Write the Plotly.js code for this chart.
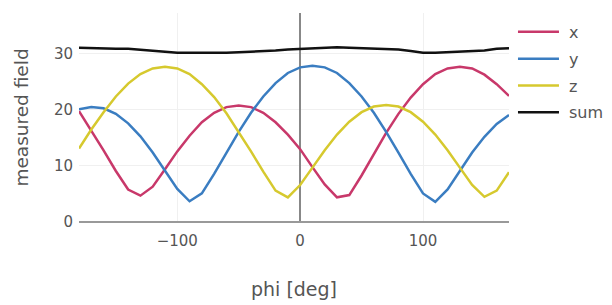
<!DOCTYPE html>
<html>
<head>
<meta charset="utf-8">
<script src="https://cdn.plot.ly/plotly-3.0.1.min.js"></script>
<style>html,body{margin:0;padding:0;background:#fff;}#chart{width:612px;height:305px;}</style>
</head>
<body>
<div id="chart"></div>
<script>
var phi = [-180,-170,-160,-150,-140,-130,-120,-110,-100,-90,-80,-70,-60,-50,-40,-30,-20,-10,0,10,20,30,40,50,60,70,80,90,100,110,120,130,140,150,160,170];
var xVals = [19.8,16.4,12.8,9.1,5.8,4.7,6.3,9.4,12.6,15.4,17.8,19.5,20.5,20.8,20.5,19.5,17.8,15.6,13.0,9.8,6.7,4.4,4.8,8.3,12.2,15.9,19.3,22.2,24.6,26.4,27.4,27.7,27.4,26.3,24.6,22.5];
var yVals = [20.1,20.5,20.3,19.3,17.6,15.3,12.4,9.2,5.9,3.7,5.1,8.6,12.4,16.1,19.5,22.4,24.8,26.6,27.6,27.9,27.6,26.6,24.8,22.4,19.5,16.1,12.4,8.6,5.1,3.6,5.8,9.1,12.4,15.2,17.5,19.1];
var zVals = [13.1,16.5,19.6,22.4,24.7,26.4,27.4,27.7,27.4,26.4,24.6,22.3,19.4,16.1,12.6,9.0,5.6,4.4,6.6,9.7,12.8,15.6,17.9,19.6,20.6,20.9,20.6,19.6,17.9,15.6,12.8,9.7,6.6,4.5,5.6,8.9];
var sumVals = [31.1,31.0,31.0,30.9,30.9,30.7,30.5,30.3,30.2,30.2,30.2,30.1,30.2,30.3,30.4,30.4,30.6,30.8,30.9,31.0,31.1,31.2,31.1,31.0,30.9,30.8,30.8,30.5,30.2,30.2,30.3,30.4,30.5,30.6,30.9,31.0];
var names = ['x','y','z','sum'];
var colors = ['#c8386a','#3a7dc1','#d6c92e','#111111'];
var series = [xVals, yVals, zVals, sumVals];
var xTickVals = [-100,0,100];
var xTickText = ['\u2212100','0','100'];
var yTickVals = [0,10,20,30];

var traces = series.map(function(v,i){
  return {x: phi, y: v, type:'scatter', mode:'lines', name: names[i], legendgroup: 'g'+i,
          line:{color: colors[i], width: 2.5}};
});

var FONT = 'DejaVu Sans, sans-serif';
var layout = {
  width: 612, height: 305,
  margin: {l:79, r:103, t:13, b:83, pad:0},
  paper_bgcolor:'#fff', plot_bgcolor:'#fff',
  font: {family: FONT, size:15, color:'#555'},
  showlegend: true,
  legend: {xref:'container', yref:'container', x:0.8382, y:0.951, xanchor:'left', yanchor:'top',
           font:{family: FONT, size:16, color:'#555'}, tracegroupgap:3, itemwidth:46},
  xaxis: {
    title: {text:'phi [deg]', font:{family: FONT, size:19, color:'#555'}, standoff: 33},
    range: [-180,170], tickvals: xTickVals, ticktext: xTickText,
    showgrid:true, gridcolor:'#f0f0f0', zeroline:true, zerolinecolor:'#888', zerolinewidth:1.5,
    showline:false, ticks:'', ticklabelstandoff: 8, tickfont:{family: FONT, size:15, color:'#555'}
  },
  yaxis: {
    title: {text:'measured field', font:{family: FONT, size:18.5, color:'#555'}, standoff: 20},
    range: [0,37.3], tickvals: yTickVals,
    showgrid:true, gridcolor:'#f0f0f0', zeroline:true, zerolinecolor:'#999', zerolinewidth:2,
    showline:false, ticks:'', ticklabelstandoff: 5, tickfont:{family: FONT, size:15, color:'#555'}
  }
};
Plotly.newPlot('chart', traces, layout, {displayModeBar:false, staticPlot:true}).then(function(gd){
  gd.querySelectorAll('.legendlines path').forEach(function(p){ p.setAttribute('d','M5,0h41'); });
});
</script>
</body>
</html>
